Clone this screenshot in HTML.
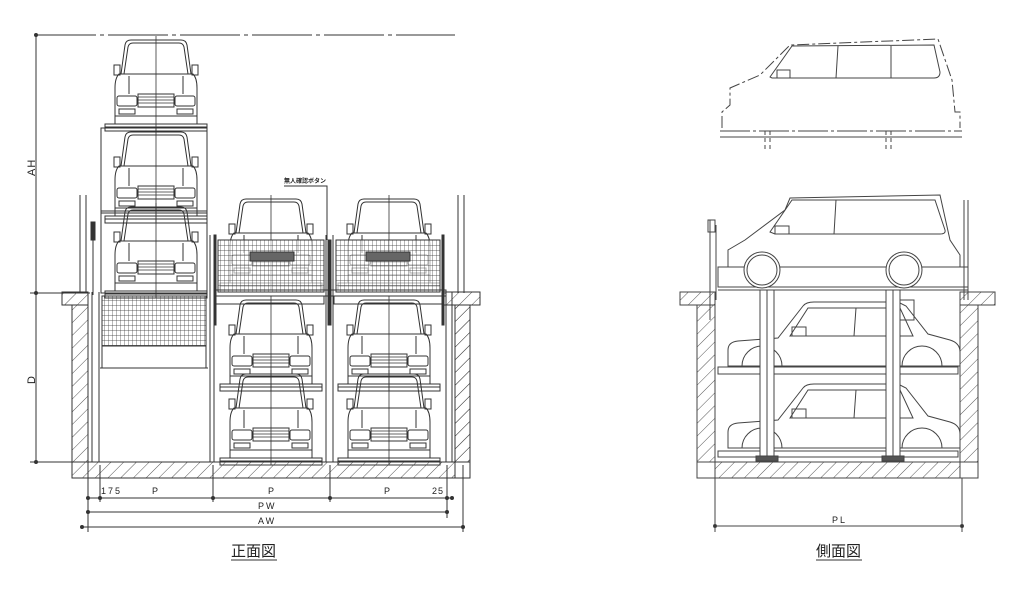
<!DOCTYPE html>
<html><head><meta charset="utf-8"><style>
html,body{margin:0;padding:0;background:#fff;}
svg{display:block;}
text{font-family:"Liberation Sans","Noto Sans CJK JP",sans-serif;fill:#222;}
</style></head><body>
<svg width="1024" height="593" viewBox="0 0 1024 593" xmlns="http://www.w3.org/2000/svg">
<defs>
<pattern id="hatch" width="9" height="9" patternUnits="userSpaceOnUse" patternTransform="rotate(45)">
<line x1="0" y1="0" x2="0" y2="9" stroke="#444" stroke-width="0.9"/>
</pattern>
<pattern id="grid" width="4" height="5" patternUnits="userSpaceOnUse">
<path d="M0 0V5M0 0H4" stroke="#333" stroke-width="0.7" fill="none"/>
</pattern>
<g id="car" fill="none" stroke="#333" stroke-width="1">
<path d="M10 36 L14 7 Q15 2 20 2 L70 2 Q75 2 76 7 L80 36"/>
<path d="M13 36 L17 9 Q18 5 22 5 L68 5 Q72 5 73 9 L77 36"/>
<rect x="3" y="27" width="6" height="10"/><rect x="81" y="27" width="6" height="10"/>
<path d="M8 36 L82 36 Q86 40 86 50 L86 86 L4 86 L4 50 Q4 40 8 36Z"/>
<line x1="18" y1="38" x2="18" y2="56"/><line x1="72" y1="38" x2="72" y2="56"/>
<rect x="6" y="58" width="20" height="10" rx="2"/><rect x="64" y="58" width="20" height="10" rx="2"/>
<rect x="8" y="71" width="16" height="5"/><rect x="66" y="71" width="16" height="5"/>
<rect x="27" y="56" width="36" height="13"/>
<path d="M27 59H63M27 62H63M27 65H63" stroke-width="0.8"/>
<line x1="4" y1="78" x2="86" y2="78"/>
<rect x="-6" y="86" width="102" height="7"/>
<line x1="-6" y1="89" x2="96" y2="89"/>
<line x1="45" y1="-2" x2="45" y2="93" stroke-width="0.8"/>
</g>
<g id="scar" fill="none" stroke="#444" stroke-width="1">
<path d="M0 66 L0 50 Q0 42 10 41 L50 38 L75 6 Q78 2 86 2 L170 2 L178 6 L200 34 L222 40 Q232 43 232 52 L232 66 Z" fill="#fff"/>
<path d="M62 36 L80 8 L172 8 L185 36 Z"/>
<line x1="128" y1="8" x2="126" y2="36"/>
<rect x="64" y="27" width="14" height="9"/>
<path d="M14 66 A20 20 0 0 1 54 66M174 66 A20 20 0 0 1 214 66"/>
</g>
</defs>

<!-- ===== FRONT VIEW ===== -->
<g stroke="#333" fill="none" stroke-width="1">
<line x1="36" y1="35" x2="455" y2="35" stroke-dasharray="60 4 4 4"/>
<line x1="36" y1="35" x2="36" y2="462"/>
<line x1="30" y1="293" x2="90" y2="293"/>
<line x1="30" y1="462" x2="88" y2="462"/>
<circle cx="36" cy="35" r="1.5" fill="#333"/><circle cx="36" cy="293" r="1.5" fill="#333"/><circle cx="36" cy="462" r="1.5" fill="#333"/>

<path d="M62 292 H88 V305 H72 V462 H88 V478 H470 V462 H455 V305 H442 V292 H480 V305 H470 V478 H72 V305 H62 Z" fill="url(#hatch)"/>
<path d="M62 292 H88 V305 H72 V462 H88 V478 H470 V462 H455 V305 H442 V292 H480 V305 H470 V478 H72 V305 H62 Z"/>
<rect x="88" y="462" width="367" height="16" fill="url(#hatch)"/>
<line x1="88" y1="462" x2="455" y2="462"/>
<rect x="455" y="305" width="15" height="157" fill="url(#hatch)"/>
<rect x="72" y="305" width="16" height="157" fill="url(#hatch)"/>
<path d="M80 195V293M86 195V293M458 195V293M464 195V293"/>
<path d="M92 292V462M99 292V462M446 292V462M452 292V462"/>
<path d="M210 235V462M214 235V462M326 235V462M333 235V462"/>
<rect x="91" y="222" width="4" height="18" fill="#333"/>
<line x1="93" y1="240" x2="93" y2="295"/>
<rect x="101" y="128" width="106" height="165"/>
<line x1="101" y1="213" x2="207" y2="213"/>
<line x1="101" y1="211" x2="207" y2="211"/>
<use href="#car" x="111" y="38"/>
<use href="#car" x="111" y="130"/>
<use href="#car" x="111" y="205"/>
<rect x="102" y="296" width="104" height="50" fill="url(#grid)" stroke-width="0.5"/>
<rect x="102" y="296" width="104" height="72"/>
<line x1="102" y1="346" x2="206" y2="346"/>
<line x1="100" y1="368" x2="208" y2="368"/>
<use href="#car" x="226" y="197"/>
<use href="#car" x="344" y="197"/>
<use href="#car" x="226" y="298"/>
<use href="#car" x="344" y="298"/>
<use href="#car" x="226" y="372"/>
<use href="#car" x="344" y="372"/>
<rect x="218" y="240" width="106" height="52" fill="#fff" opacity="0.6"/>
<rect x="336" y="240" width="104" height="52" fill="#fff" opacity="0.6"/>
<rect x="218" y="240" width="106" height="52" fill="url(#grid)"/>
<rect x="336" y="240" width="104" height="52" fill="url(#grid)"/>
<rect x="250" y="252" width="44" height="9" fill="#666"/>
<rect x="366" y="252" width="44" height="9" fill="#666"/>
<rect x="214" y="290" width="232" height="6"/>
<rect x="214" y="296" width="110" height="8"/>
<rect x="334" y="296" width="110" height="8"/>
<rect x="214" y="235" width="2" height="90" fill="#333"/>
<rect x="328" y="240" width="3" height="85" fill="#333"/>
<rect x="442" y="235" width="2" height="90" fill="#333"/>
<polyline points="284,186 327,186 327,240"/>

<path d="M88 465V532M100 465V502M213 465V502M330 465V502M447 465V518M463 465V532"/>
<line x1="88" y1="498" x2="452" y2="498"/>
<line x1="88" y1="512" x2="447" y2="512"/>
<line x1="82" y1="527" x2="463" y2="527"/>
<g fill="#333"><circle cx="88" cy="498" r="1.5"/><circle cx="100" cy="498" r="1.5"/><circle cx="213" cy="498" r="1.5"/><circle cx="330" cy="498" r="1.5"/><circle cx="447" cy="498" r="1.5"/><circle cx="452" cy="498" r="1.5"/>
<circle cx="88" cy="512" r="1.5"/><circle cx="447" cy="512" r="1.5"/><circle cx="82" cy="527" r="1.5"/><circle cx="463" cy="527" r="1.5"/></g>
</g>
<g font-size="9">
<text x="101" y="494" letter-spacing="2">175</text>
<text x="152" y="494">P</text><text x="268" y="494">P</text><text x="384" y="494">P</text>
<text x="432" y="494" letter-spacing="1">25</text>
<text x="258" y="509" letter-spacing="2">PW</text>
<text x="258" y="524" letter-spacing="2">AW</text>
<text x="284" y="183" font-size="6" font-weight="bold">無人確認ボタン</text>
<text transform="translate(35,176) rotate(-90)" font-size="11" letter-spacing="1">AH</text>
<text transform="translate(35,384) rotate(-90)" font-size="11">D</text>
</g>
<text x="231" y="556" font-size="15">正面図</text>
<line x1="231" y1="560" x2="277" y2="560" stroke="#333"/>

<!-- ===== SIDE VIEW ===== -->
<g stroke="#444" fill="none" stroke-width="1">
<path d="M722 128 L722 112 L730 105 L730 88 L760 75 L790 45 L938 39 L952 80 L955 112 L960 112 L960 128" stroke-dasharray="12 3 3 3"/>
<path d="M770 77 L792 46 L934 45 L940 72 Q940 78 934 78 L772 78Z"/>
<line x1="838" y1="46" x2="836" y2="78"/><line x1="891" y1="46" x2="891" y2="78"/>
<rect x="777" y="70" width="13" height="8"/>
<line x1="720" y1="131" x2="962" y2="131" stroke-dasharray="30 3 3 3"/>
<line x1="720" y1="137" x2="962" y2="137"/>
<path d="M765 131V150M770 131V150M886 131V150M891 131V150" stroke-dasharray="4 3"/>
<path d="M680 292 H715 V305 H697 V478 H978 V305 H960 V292 H995 V305 H978 V478 H697 V305 H680 Z" fill="url(#hatch)"/>
<rect x="697" y="305" width="18" height="157" fill="url(#hatch)"/>
<rect x="960" y="305" width="18" height="157" fill="url(#hatch)"/>
<rect x="715" y="462" width="245" height="16" fill="url(#hatch)"/>
<path d="M680 292 H715 V462 H960 V292 H995 V305 H978 V478 H697 V305 H680 Z"/>
<!-- top car -->
<path d="M728 280 L728 250 L745 240 L785 210 L790 198 L940 195 L950 240 L960 255 L960 282 Z" fill="#fff"/>
<path d="M770 232 L792 200 L935 200 L945 230 Q946 234 940 234 L775 234Z"/>
<line x1="836" y1="200" x2="834" y2="234"/>
<rect x="775" y="226" width="14" height="8"/>
<rect x="718" y="267" width="250" height="20" fill="#fff"/>
<circle cx="762" cy="270" r="18" fill="#fff"/><circle cx="762" cy="270" r="15"/>
<circle cx="904" cy="270" r="18" fill="#fff"/><circle cx="904" cy="270" r="15"/>
<line x1="718" y1="290" x2="968" y2="290"/>
<!-- lower cars -->
<use href="#scar" x="728" y="300"/>
<use href="#scar" x="728" y="382"/>
<rect x="718" y="367" width="240" height="7" fill="#fff"/>
<rect x="718" y="451" width="240" height="6" fill="#fff"/>
<!-- posts -->
<rect x="760" y="290" width="14" height="170" fill="#fff"/>
<rect x="886" y="290" width="14" height="170" fill="#fff"/>
<line x1="767" y1="290" x2="767" y2="460"/><line x1="893" y1="290" x2="893" y2="460"/>
<rect x="756" y="456" width="22" height="5" fill="#555"/><rect x="882" y="456" width="22" height="5" fill="#555"/>
<path d="M710 220V320M716 225V300M964 200V300M968 200V300"/>
<rect x="708" y="220" width="7" height="12"/>
<rect x="900" y="300" width="14" height="20"/>
<path d="M715 478V532M962 478V532"/>
<line x1="715" y1="526" x2="962" y2="526"/>
<circle cx="715" cy="526" r="1.5" fill="#333"/><circle cx="962" cy="526" r="1.5" fill="#333"/>
</g>
<text x="832" y="523" font-size="9" letter-spacing="2">PL</text>
<text x="816" y="556" font-size="15">側面図</text>
<line x1="816" y1="560" x2="862" y2="560" stroke="#333"/>
</svg>
</body></html>
